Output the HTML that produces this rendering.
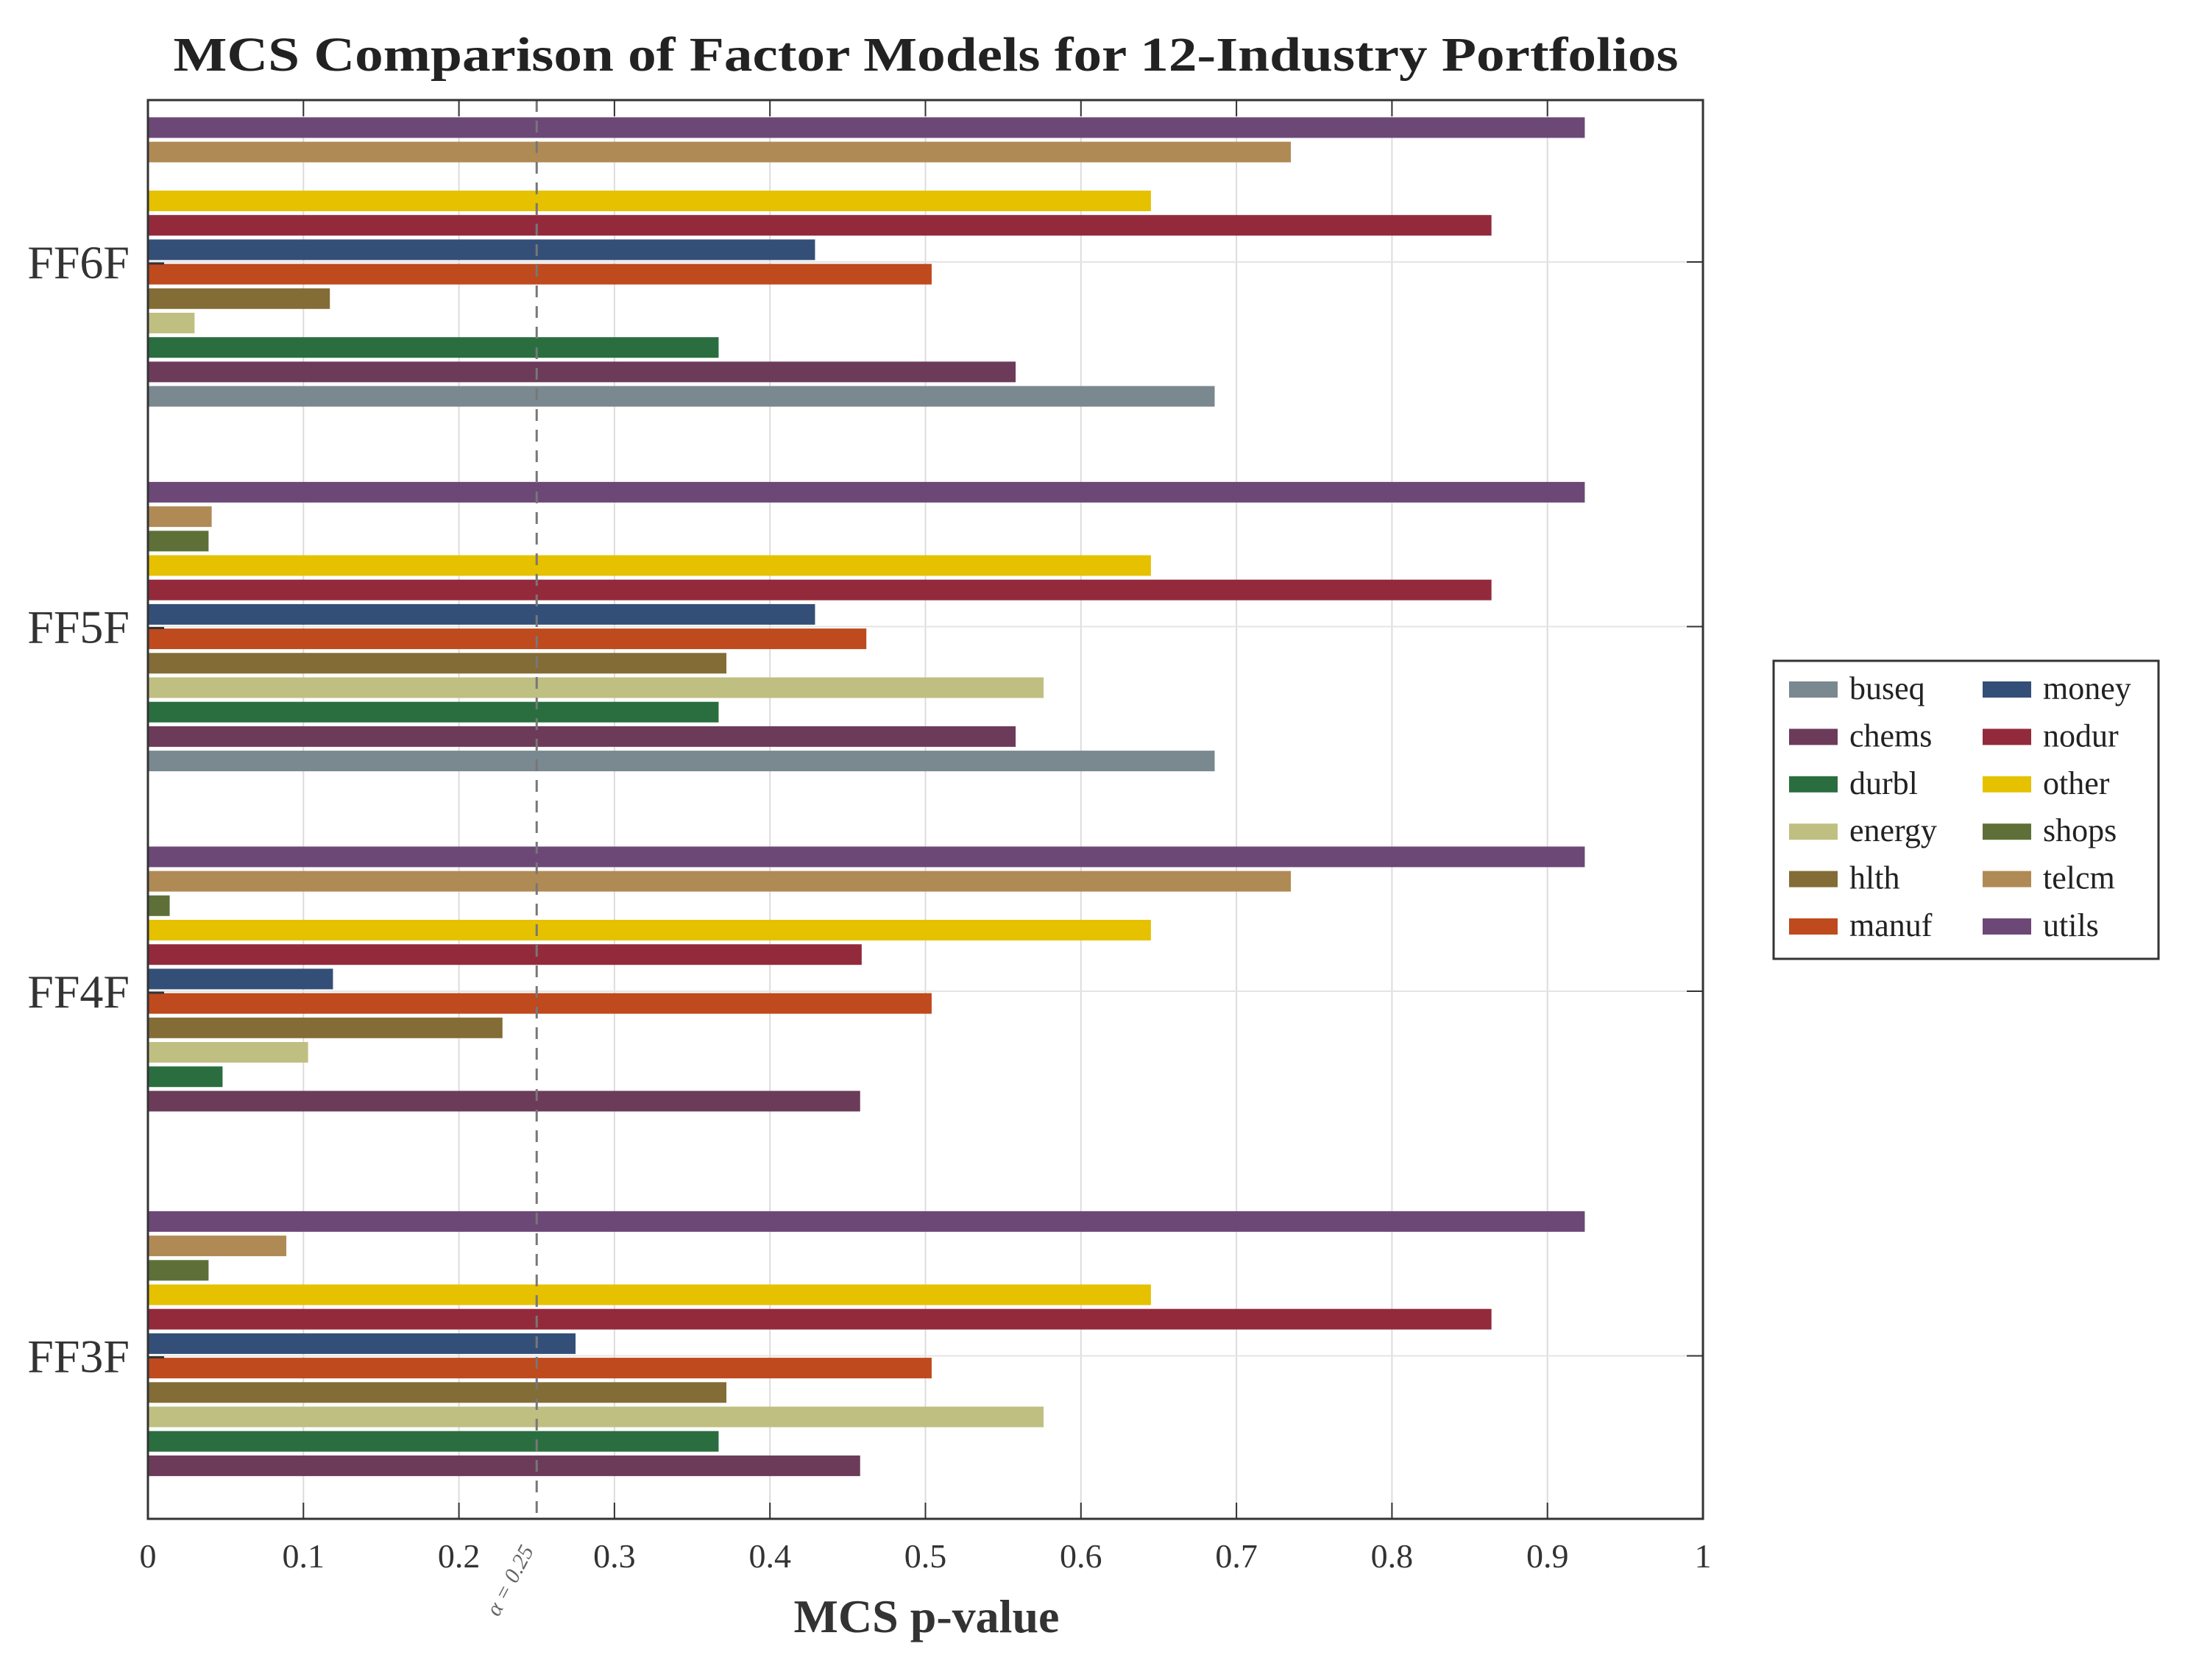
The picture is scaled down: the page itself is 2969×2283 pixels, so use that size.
<!DOCTYPE html>
<html><head><meta charset="utf-8"><style>
html,body{margin:0;padding:0;background:#fff;}
svg{display:block;font-family:"Liberation Serif",serif;}
</style></head><body>
<svg id="chart" width="2969" height="2283" viewBox="0 0 2969 2283" xmlns="http://www.w3.org/2000/svg">
<rect width="2969" height="2283" fill="#fff"/>
<text x="1258" y="96" text-anchor="middle" font-size="66" font-weight="bold" fill="#222" textLength="2045" lengthAdjust="spacingAndGlyphs">MCS Comparison of Factor Models for 12-Industry Portfolios</text>
<g id="grid"></g>
<g id="bars"></g>
<g id="axes"></g>
<g id="legend"></g>
</svg>
<script>
const models = ["FF6F","FF5F","FF4F","FF3F"];
const industries = ["buseq","chems","durbl","energy","hlth","manuf","money","nodur","other","shops","telcm","utils"];
const colors = ["#7a8890","#6c3b5a","#2a6e3f","#c0bf82","#836c35","#be4a1e","#344f77","#932a3c","#e5c100","#5e7038","#b08a55","#6c4877"];
const ff6f = [0.686,0.558,0.367,0.030,0.117,0.504,0.429,0.864,0.645,0,0.735,0.924];
const ff5f = [0.686,0.558,0.367,0.576,0.372,0.462,0.429,0.864,0.645,0.039,0.041,0.924];
const ff4f = [0,0.458,0.048,0.103,0.228,0.504,0.119,0.459,0.645,0.014,0.735,0.924];
const ff3f = [0,0.458,0.367,0.576,0.372,0.504,0.275,0.864,0.645,0.039,0.089,0.924];
const xTicks = [0,0.1,0.2,0.3,0.4,0.5,0.6,0.7,0.8,0.9,1];
const xTickLabels = ["0","0.1","0.2","0.3","0.4","0.5","0.6","0.7","0.8","0.9","1"];
const alphaLevel = 0.25;

const values = [ff6f, ff5f, ff4f, ff3f];
const NS = "http://www.w3.org/2000/svg";
const L = 201, R = 2314, T = 136, B = 2064;
const xS = v => L + v * (R - L);
const gS = g => 356 + g * 495.5;
const pitch = 33.2, bh = 28;
function mk(tag, attrs, parent){const e=document.createElementNS(NS,tag);for(const k in attrs)e.setAttribute(k,attrs[k]);parent.appendChild(e);return e;}
const grid=document.getElementById('grid'), bars=document.getElementById('bars'), axes=document.getElementById('axes'), legend=document.getElementById('legend');

xTicks.forEach((t,i)=>{
  if(t>0&&t<1){const l=mk('line',{x1:xS(t),x2:xS(t),y1:T,y2:B,stroke:'#dcdcdc','stroke-width':2},grid);
  
  }
  const tk=mk('line',{x1:xS(t),x2:xS(t),y1:B,y2:B-22,stroke:'#333','stroke-width':2},axes);
  
  
  const tt=mk('line',{x1:xS(t),x2:xS(t),y1:T,y2:T+22,stroke:'#333','stroke-width':2},axes);
  
  
  const tl=mk('text',{x:xS(t),y:2130,'text-anchor':'middle','font-size':46,fill:'#333'},axes);
  tl.textContent=xTickLabels[i];
  
  
});
models.forEach((m,g)=>{
  const gl=mk('line',{x1:L,x2:R,y1:gS(g),y2:gS(g),stroke:'#e4e4e4','stroke-width':2},grid);
  
  
  values[g].forEach((v,i)=>{
    if(v<=0) return;
    const yc=gS(g)+(5.5-i)*pitch;
    const r=mk('rect',{x:xS(0),y:yc-bh/2,width:xS(v)-xS(0),height:bh,fill:colors[i]},bars);
    
    
  });
  const z=mk('line',{x1:L,x2:L+22,y1:gS(g)+2,y2:gS(g)+2,stroke:'#333','stroke-width':3},bars);
  
  
  const rt=mk('line',{x1:R,x2:R-22,y1:gS(g),y2:gS(g),stroke:'#333','stroke-width':2},axes);
  
  
  const yl=mk('text',{x:176,y:gS(g)+22,'text-anchor':'end','font-size':64,fill:'#333'},axes);
  yl.textContent=m;
  
  
});
const dl=mk('line',{x1:xS(alphaLevel),x2:xS(alphaLevel),y1:T,y2:B,stroke:'#777','stroke-width':3,'stroke-dasharray':'16 12'},axes);


const al=mk('text',{x:0,y:0,'font-size':30,fill:'#666','font-style':'italic',transform:`translate(${xS(alphaLevel)-52},2198) rotate(-62)`},axes);
al.textContent='α = 0.25';


const fr=mk('rect',{x:L,y:T,width:R-L,height:B-T,fill:'none',stroke:'#333','stroke-width':3},axes);


const xt=mk('text',{x:1259,y:2218,'text-anchor':'middle','font-size':64,'font-weight':'bold',fill:'#333'},axes);
xt.textContent='MCS p-value';



const lb=mk('rect',{x:2410,y:898,width:523,height:405,fill:'#fff',stroke:'#333','stroke-width':3},legend);


industries.forEach((n,i)=>{
  const col=Math.floor(i/6), row=i%6;
  const sx= col?2694:2431, ty=937+row*64.4;
  const g=mk('g',{},legend);
  
  
  mk('rect',{x:sx,y:ty-11,width:66,height:22,fill:colors[i]},g);
  const t=mk('text',{x:sx+82,y:ty+13,'font-size':44,fill:'#222'},g);
  t.textContent=n;
});
</script>
</body></html>
